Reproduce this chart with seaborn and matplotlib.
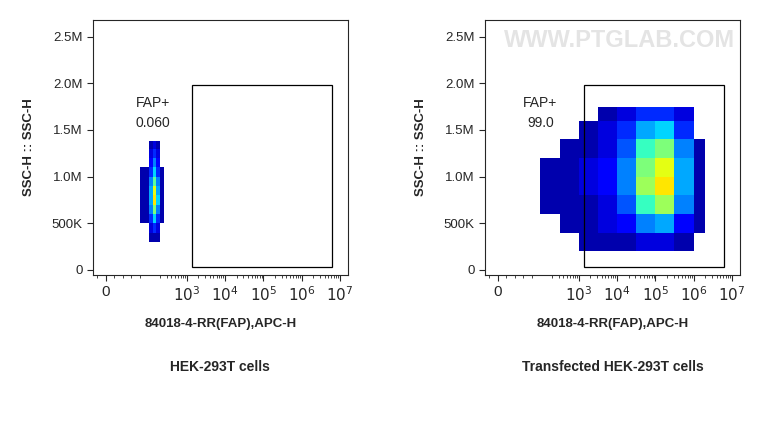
import numpy as np
import matplotlib
matplotlib.use("Agg")
import matplotlib.pyplot as plt
import seaborn as sns
from matplotlib.ticker import FixedLocator

sns.set_style("ticks")
plt.rcParams['font.family'] = ['Liberation Sans', 'DejaVu Sans']

titles = ["HEK-293T cells", "Transfected HEK-293T cells"]
gate_pct = ["0.060", "99.0"]
xlabel = "84018-4-RR(FAP),APC-H"
ylabel = "SSC-H :: SSC-H"
ytick_vals = [0, 500e3, 1.0e6, 1.5e6, 2.0e6, 2.5e6]
ytick_labels = ["0", "500K", "1.0M", "1.5M", "2.0M", "2.5M"]
gate_x = [1400, 6.3e6]
gate_y = [30e3, 1.98e6]

# binned event density
left_xedges = [80, 105, 130, 160, 200, 260]
left_yedges = [0.3e6, 0.4e6, 0.5e6, 0.6e6, 0.7e6, 0.8e6, 0.9e6, 1.0e6, 1.1e6, 1.2e6, 1.3e6, 1.38e6]
left_counts = [
    [0, 1, 1, 1, 0],
    [0, 2, 4, 2, 0],
    [1, 4, 8, 4, 1],
    [1, 6, 12, 6, 1],
    [1, 7, 16, 8, 1],
    [1, 7, 15, 7, 1],
    [1, 6, 11, 6, 1],
    [1, 4, 8, 4, 1],
    [0, 3, 6, 3, 0],
    [0, 2, 4, 2, 0],
    [0, 1, 2, 1, 0],
]
right_xedges = [100, 316, 1000, 3162, 1e4, 3.16e4, 1e5, 3.16e5, 1e6, 2e6]
right_yedges = [0.2e6, 0.4e6, 0.6e6, 0.8e6, 1.0e6, 1.2e6, 1.4e6, 1.6e6, 1.75e6]
right_counts = [
    [0, 0, 1, 1, 1, 2, 2, 1, 0],
    [0, 1, 1, 2, 3, 6, 7, 3, 1],
    [1, 1, 1, 2, 5, 10, 13, 6, 1],
    [1, 1, 2, 3, 6, 13, 16, 7, 1],
    [1, 1, 2, 3, 6, 12, 15, 7, 1],
    [0, 1, 1, 2, 5, 10, 12, 6, 1],
    [0, 0, 1, 2, 4, 7, 8, 4, 0],
    [0, 0, 0, 1, 2, 4, 4, 2, 0],
]

fig = plt.figure(figsize=(7.65, 4.28), dpi=100)
lefts = [0.1216, 0.634]
data = [(left_xedges, left_yedges, left_counts), (right_xedges, right_yedges, right_counts)]
xticks = [0, 1e3, 1e4, 1e5, 1e6, 1e7]
xticklabels = ["0", r"$10^3$", r"$10^4$", r"$10^5$", r"$10^6$", r"$10^7$"]
minor = [v * m for v in [100, 1e3, 1e4, 1e5, 1e6] for m in range(2, 10)] + [-20, 20, 40, 60, 80]
label_x = [130, 100]
for i, (xe, ye, c) in enumerate(data):
    ax = fig.add_axes([lefts[i], 0.3575, 0.333, 0.596])
    ax.set_xscale('symlog', linthresh=100, linscale=1)
    c = np.ma.masked_equal(np.array(c, float), 0)
    ax.pcolormesh(xe, ye, c, cmap='jet', vmin=0, vmax=24)
    ax.set_xlim(-30, 1.6e7)
    ax.set_ylim(-55e3, 2.68e6)
    ax.add_patch(plt.Rectangle((gate_x[0], gate_y[0]), gate_x[1] - gate_x[0], gate_y[1] - gate_y[0],
                               fill=False, ec='black', lw=0.9))
    ax.text(label_x[i], 1.68e6, "FAP+\n" + gate_pct[i], ha='center', va='center', fontsize=10, linespacing=1.5)
    ax.xaxis.set_major_locator(FixedLocator(xticks))
    ax.xaxis.set_minor_locator(FixedLocator(minor))
    ax.set_xticklabels(xticklabels, fontsize=11)
    ax.set_yticks(ytick_vals)
    ax.set_yticklabels(ytick_labels, fontsize=9.5)
    ax.set_ylabel(ylabel, fontsize=9.5, fontweight='bold', labelpad=12)
    ax.set_xlabel(xlabel, fontsize=9.5, fontweight='bold', labelpad=10)
    for s in ax.spines.values():
        s.set_linewidth(0.8)
    ax.tick_params(direction='out', length=4, width=0.8)
    ax.tick_params(which='minor', length=2)
    fig.text(lefts[i] + 0.1665, 0.133, titles[i], ha='center', fontsize=10, fontweight='bold')
fig.text(0.81, 0.905, "WWW.PTGLAB.COM", ha='center', va='center', fontsize=17, color='#e4e4e4', fontweight='bold')
fig.savefig("out.png", dpi=100)
